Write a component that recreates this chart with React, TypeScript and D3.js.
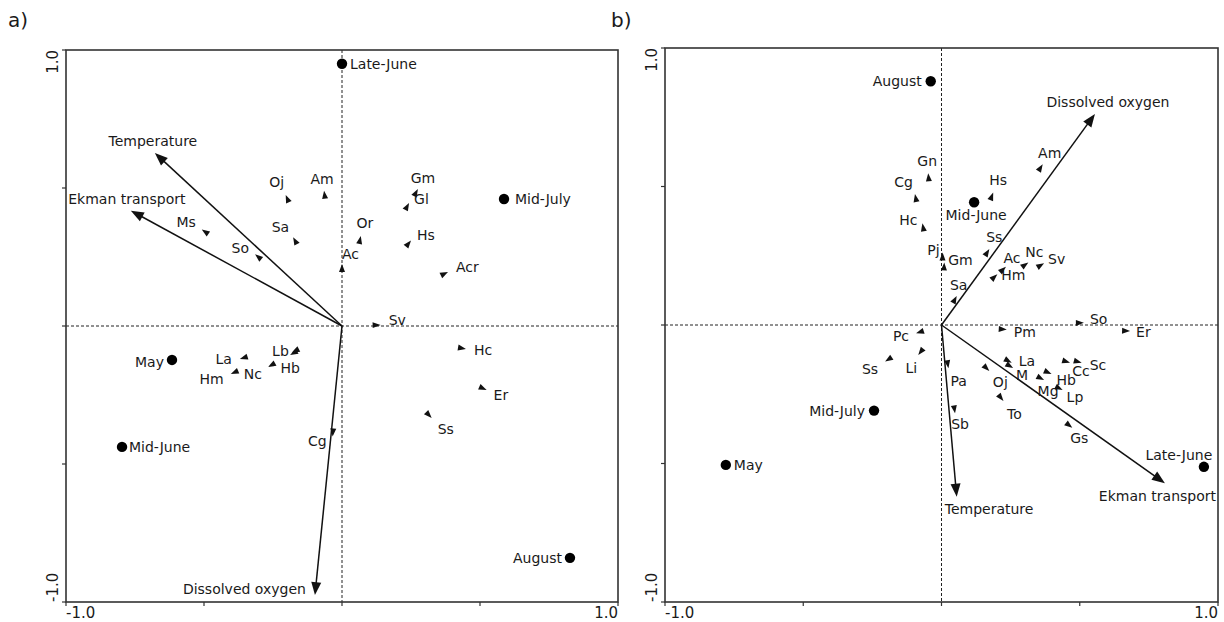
import React from "react";
import * as d3 from "d3";

// ---------- DATA ----------
// Panel a
const sitesA = ["Late-June", "Mid-July", "May", "Mid-June", "August"];
const sitesAX = [0.0, 0.587, -0.616, -0.797, 0.826];
const sitesAY = [0.95, 0.46, -0.123, -0.438, -0.84];

const envA = ["Temperature", "Ekman transport", "Dissolved oxygen"];
const envAX = [-0.678, -0.765, -0.098];
const envAY = [0.627, 0.418, -0.975];

const speciesA = ["Oj", "Am", "Ms", "Sa", "So", "Ac", "Gm", "Gl", "Or", "Hs", "Acr", "Sv", "Hc", "Er", "Ss", "Cg", "La", "Hm", "Nc", "Lb", "Hb"];
const speciesAX = [-0.204, -0.065, -0.508, -0.177, -0.315, 0.0, 0.275, 0.243, 0.068, 0.25, 0.384, 0.14, 0.449, 0.524, 0.325, -0.034, -0.37, -0.403, -0.268, -0.182, -0.188];
const speciesAY = [0.475, 0.49, 0.35, 0.322, 0.26, 0.225, 0.496, 0.446, 0.326, 0.31, 0.196, 0.004, -0.083, -0.232, -0.333, -0.4, -0.12, -0.174, -0.149, -0.097, -0.105];

// Panel b
const sitesB = ["August", "Mid-June", "Mid-July", "May", "Late-June"];
const sitesBX = [-0.039, 0.118, -0.244, -0.78, 0.949];
const sitesBY = [0.88, 0.443, -0.309, -0.505, -0.512];

const envB = ["Dissolved oxygen", "Ekman transport", "Temperature"];
const envBX = [0.555, 0.808, 0.055];
const envBY = [0.762, -0.571, -0.62];

const speciesB = ["Gn", "Cg", "Hc", "Pj", "Gm", "Sa", "Am", "Hs", "Ss", "Ac", "Hm", "Nc", "Sv", "So", "Er", "Pm", "Pc", "Li", "Ss", "Pa", "Sb", "La", "M", "Oj", "To", "Hb", "Mg", "Lp", "Cc", "Sc", "Gs"];
const speciesBX = [-0.048, -0.096, -0.069, 0.004, 0.01, 0.055, 0.366, 0.187, 0.173, 0.233, 0.202, 0.314, 0.371, 0.515, 0.682, 0.236, -0.092, -0.084, -0.204, 0.025, 0.049, 0.254, 0.259, 0.173, 0.224, 0.398, 0.371, 0.438, 0.465, 0.507, 0.473];
const speciesBY = [0.548, 0.473, 0.367, 0.262, 0.226, 0.105, 0.58, 0.478, 0.274, 0.21, 0.183, 0.226, 0.223, 0.008, -0.022, -0.016, -0.03, -0.108, -0.132, -0.156, -0.319, -0.136, -0.155, -0.166, -0.274, -0.177, -0.199, -0.235, -0.136, -0.136, -0.371];

const axisTicks = [-1, -0.5, 0, 0.5, 1];
const axisLabels = ["-1.0", "1.0"];

// ---------- LABEL LAYOUT (anchor, dx, dy in px) ----------
type LP = [string, number, number];
const layoutSitesA: LP[] = [["start", 8, 0], ["start", 11, 0], ["end", -8, 2], ["start", 7, 0], ["end", -8, 0]];
const layoutEnvA: LP[] = [["middle", -2, -12], ["middle", -4, -12], ["end", -9, -6]];
const layoutSpeciesA: LP[] = [
  ["middle", -9, -13], ["middle", -2, -12], ["end", -6, -7], ["end", -4, -10], ["end", -6, -6],
  ["start", 0, -10], ["middle", 5, -11], ["start", 5, -4], ["middle", 4, -13], ["start", 6, -5],
  ["start", 8, -5], ["start", 8, -5], ["start", 8, 1], ["start", 7, 5], ["start", 6, 11],
  ["end", -6, 5], ["end", -8, 0], ["end", -7, 5], ["end", -6, 7], ["end", -3, -2], ["middle", 0, 13],
];
const layoutSitesB: LP[] = [["end", -9, 0], ["middle", 2, 13], ["end", -9, 0], ["start", 8, 0], ["middle", -25, -12]];
const layoutEnvB: LP[] = [["middle", 13, -12], ["middle", -7.5, 13], ["start", -12, 12]];
const layoutSpeciesB: LP[] = [
  ["middle", -1, -12], ["end", -2, -12], ["end", -5, -3], ["end", -3, -2], ["start", 4, -2],
  ["middle", 2, -11], ["middle", 7, -11], ["middle", 5, -13], ["middle", 5, -12], ["middle", 6, -9],
  ["start", 4, 1], ["middle", 6, -10], ["start", 4, -4], ["start", 6, -4], ["start", 6, 1],
  ["start", 7, 3], ["end", -7, 3], ["middle", -7, 13], ["end", -7, 7], ["start", 2, 13],
  ["middle", 5, 11], ["start", 7, -2], ["middle", 9, 7], ["middle", 11, 11], ["middle", 11, 13],
  ["start", 5, 6], ["middle", 4, 11], ["start", 4, 7], ["middle", 11, 8], ["start", 8, 2], ["middle", 7, 10],
];

const FONT = "'DejaVu Sans', Verdana, sans-serif";
const TXT = "#1a1a1a";
const FS = 14;

function head(tx: number, ty: number, ox: number, oy: number, len: number, hw: number) {
  const a = Math.atan2(ty - oy, tx - ox);
  const bx = tx - len * Math.cos(a);
  const by = ty - len * Math.sin(a);
  const px = -Math.sin(a) * hw;
  const py = Math.cos(a) * hw;
  return `M${tx},${ty}L${bx + px},${by + py}L${bx - px},${by - py}Z`;
}

interface PanelProps {
  letter: string;
  left: number; top: number; right: number; bottom: number;
  sites: string[]; sx: number[]; sy: number[]; lSites: LP[];
  env: string[]; ex: number[]; ey: number[]; lEnv: LP[];
  spp: string[]; px: number[]; py: number[]; lSpp: LP[];
  letterX: number;
}

function Panel(p: PanelProps) {
  const x = d3.scaleLinear().domain([-1, 1]).range([p.left, p.right]);
  const y = d3.scaleLinear().domain([-1, 1]).range([p.bottom, p.top]);
  const ox = x(0), oy = y(0);
  const lab = (key: string, text: string, bx: number, by: number, l: LP) => (
    <text key={key} x={bx + l[1]} y={by + l[2]} textAnchor={l[0] as any} dominantBaseline="central"
      fontFamily={FONT} fontSize={FS} fill={TXT}>{text}</text>
  );
  return (
    <g>
      <text x={p.letterX} y={27} fontFamily={FONT} fontSize={20} fill={TXT}>{p.letter}</text>
      {/* zero lines */}
      <line x1={p.left} x2={p.right} y1={oy} y2={oy} stroke="#222" strokeWidth={1} strokeDasharray="3,2" />
      <line x1={ox} x2={ox} y1={p.top} y2={p.bottom} stroke="#222" strokeWidth={1} strokeDasharray="3,2" />
      {/* frame */}
      <rect x={p.left} y={p.top} width={p.right - p.left} height={p.bottom - p.top} fill="none" stroke="#333" strokeWidth={1.6} />
      {axisTicks.map((t) => (
        <g key={"t" + t}>
          <line x1={x(t)} x2={x(t)} y1={p.bottom} y2={p.bottom + 4} stroke="#333" strokeWidth={1.2} />
          <line x1={p.left - 4} x2={p.left} y1={y(t)} y2={y(t)} stroke="#333" strokeWidth={1.2} />
        </g>
      ))}
      <text x={x(-1)} y={p.bottom + 16} textAnchor="start" fontFamily={FONT} fontSize={15} fill={TXT}>{axisLabels[0]}</text>
      <text x={x(1)} y={p.bottom + 16} textAnchor="end" fontFamily={FONT} fontSize={15} fill={TXT}>{axisLabels[1]}</text>
      <text transform={`translate(${p.left - 8},${y(1)}) rotate(-90)`} textAnchor="end" fontFamily={FONT} fontSize={15} fill={TXT}>{axisLabels[1]}</text>
      <text transform={`translate(${p.left - 8},${y(-1)}) rotate(-90)`} textAnchor="start" fontFamily={FONT} fontSize={15} fill={TXT}>{axisLabels[0]}</text>

      {/* environmental arrows */}
      {p.env.map((n, i) => {
        const tx = x(p.ex[i]), ty = y(p.ey[i]);
        const a = Math.atan2(ty - oy, tx - ox);
        return (
          <g key={"e" + i}>
            <line x1={ox} y1={oy} x2={tx - 8 * Math.cos(a)} y2={ty - 8 * Math.sin(a)} stroke="#111" strokeWidth={1.5} />
            <path d={head(tx, ty, ox, oy, 13, 5)} fill="#111" />
            {lab("el" + i, n, tx, ty, p.lEnv[i])}
          </g>
        );
      })}

      {/* species arrowheads */}
      {p.spp.map((n, i) => {
        const tx = x(p.px[i]), ty = y(p.py[i]);
        return (
          <g key={"s" + i}>
            <path d={head(tx, ty, ox, oy, 8, 3)} fill="#111" />
            {lab("sl" + i, n, tx, ty, p.lSpp[i])}
          </g>
        );
      })}

      {/* sampling periods */}
      {p.sites.map((n, i) => {
        const cx = x(p.sx[i]), cy = y(p.sy[i]);
        return (
          <g key={"d" + i}>
            <circle cx={cx} cy={cy} r={5.2} fill="#000" />
            {lab("dl" + i, n, cx, cy, p.lSites[i])}
          </g>
        );
      })}
    </g>
  );
}

export default function App() {
  return (
    <svg width={1224} height={622} style={{ display: "block", position: "absolute", left: 0, top: 0, background: "#fff" }}>
      <rect width={1224} height={622} fill="#fff" />
      <Panel letter="a)" letterX={8} left={66} top={50} right={618} bottom={602}
        sites={sitesA} sx={sitesAX} sy={sitesAY} lSites={layoutSitesA}
        env={envA} ex={envAX} ey={envAY} lEnv={layoutEnvA}
        spp={speciesA} px={speciesAX} py={speciesAY} lSpp={layoutSpeciesA} />
      <Panel letter="b)" letterX={611} left={665} top={48} right={1218} bottom={602}
        sites={sitesB} sx={sitesBX} sy={sitesBY} lSites={layoutSitesB}
        env={envB} ex={envBX} ey={envBY} lEnv={layoutEnvB}
        spp={speciesB} px={speciesBX} py={speciesBY} lSpp={layoutSpeciesB} />
    </svg>
  );
}
